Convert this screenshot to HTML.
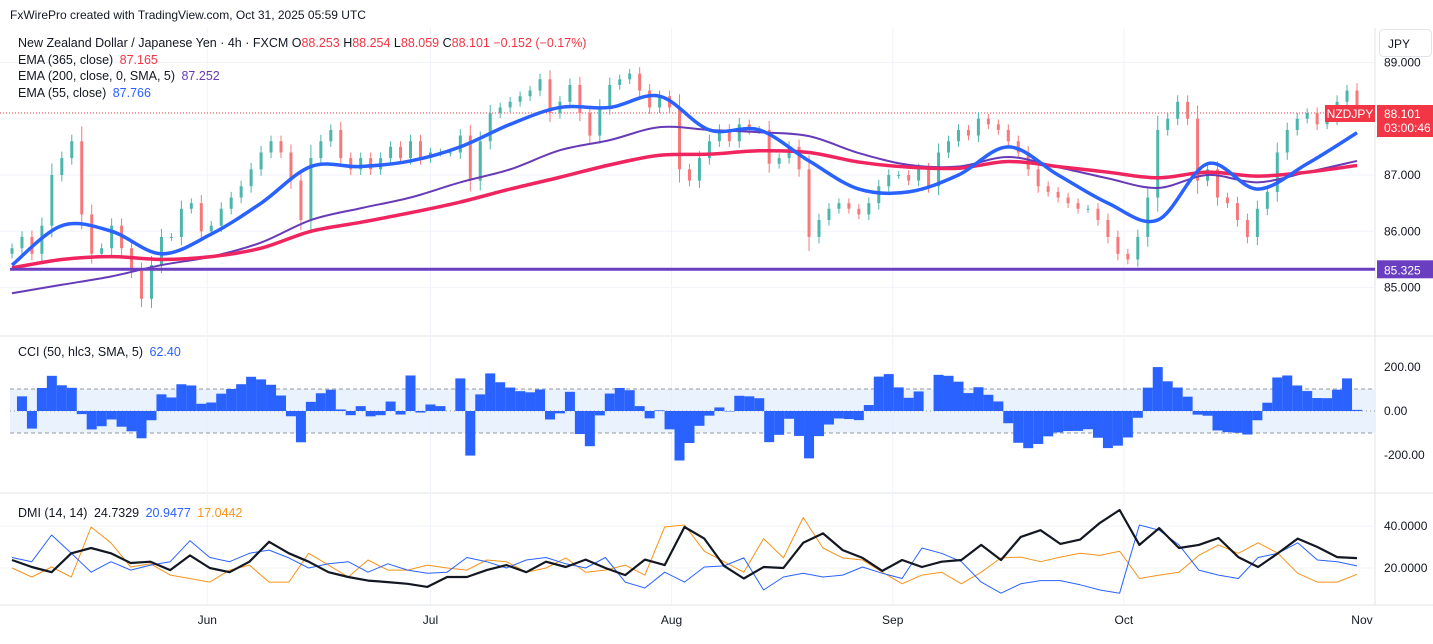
<!DOCTYPE html>
<html><head><meta charset="utf-8"><style>
body{margin:0;background:#fff;font-family:"Liberation Sans",sans-serif}
svg text{font-family:"Liberation Sans",sans-serif}
</style></head><body>
<svg id="c" width="1433" height="639" xmlns="http://www.w3.org/2000/svg">
<rect width="1433" height="639" fill="#fff"/>
<text x="10" y="19" font-size="12" fill="#131722">FxWirePro created with TradingView.com, Oct 31, 2025 05:59 UTC</text>
<g id="grid"></g>
<g id="main"></g>
<g id="cci"></g>
<g id="dmi"></g>
<g id="axes"></g>
<g font-size="12.5">
<text x="18" y="47" fill="#131722">New Zealand Dollar / Japanese Yen · 4h · FXCM  O<tspan fill="#f23645">88.253</tspan>  H<tspan fill="#f23645">88.254</tspan>  L<tspan fill="#f23645">88.059</tspan>  C<tspan fill="#f23645">88.101</tspan>  <tspan fill="#f23645">−0.152 (−0.17%)</tspan></text>
<text x="18" y="64" fill="#131722">EMA (365, close) <tspan fill="#f23645" dx="3">87.165</tspan></text>
<text x="18" y="80" fill="#131722">EMA (200, close, 0, SMA, 5) <tspan fill="#673ab7" dx="3">87.252</tspan></text>
<text x="18" y="97" fill="#131722">EMA (55, close) <tspan fill="#2962ff" dx="3">87.766</tspan></text>
</g>
<text x="18" y="356" font-size="12.5" fill="#131722">CCI (50, hlc3, SMA, 5) <tspan fill="#2962ff" dx="3">62.40</tspan></text>
<text x="18" y="517" font-size="12.5" fill="#131722">DMI (14, 14) <tspan fill="#131722" dx="3">24.7329</tspan> <tspan fill="#2962ff" dx="3">20.9477</tspan> <tspan fill="#f7931a" dx="3">17.0442</tspan></text>
</svg>
<script>
const closes=[85.7,85.9,85.6,86.1,87.0,87.3,87.6,86.3,85.6,85.7,86.1,85.7,85.3,84.8,85.4,85.9,85.9,86.4,86.5,86.0,86.1,86.4,86.6,86.8,87.1,87.4,87.6,87.4,86.9,86.2,87.3,87.6,87.8,87.3,87.1,87.3,87.1,87.3,87.5,87.3,87.6,87.3,87.4,87.4,87.4,87.7,86.9,87.6,88.1,88.2,88.3,88.4,88.5,88.7,88.1,88.3,88.6,88.1,87.7,88.2,88.6,88.7,88.8,88.5,88.2,88.4,88.2,87.1,86.9,87.3,87.6,87.8,87.6,87.9,87.8,87.8,87.2,87.3,87.5,87.1,85.9,86.2,86.4,86.5,86.4,86.3,86.5,86.8,87.0,87.0,86.9,87.1,86.8,87.4,87.6,87.8,87.7,88.0,87.9,87.8,87.6,87.4,87.1,86.8,86.7,86.6,86.5,86.4,86.4,86.2,85.9,85.6,85.5,85.9,86.6,87.8,88.0,88.3,88.0,86.9,87.1,86.6,86.5,86.2,85.9,86.4,86.7,87.4,87.8,88.0,88.1,87.9,88.0,88.3,88.5,88.1];
const ema55=[85.4,86.1,86.0,85.6,85.95,86.5,87.15,87.15,87.25,87.5,87.9,88.2,88.2,88.4,87.8,87.8,87.25,86.75,86.7,87.0,87.5,87.0,86.5,86.2,87.2,86.75,87.2,87.75];
const ema365=[85.35,85.5,85.55,85.5,85.55,85.7,86.0,86.16,86.33,86.52,86.75,86.96,87.18,87.35,87.37,87.43,87.4,87.23,87.14,87.12,87.24,87.15,87.05,86.95,87.05,86.98,87.05,87.17];
const ema200=[84.9,85.05,85.2,85.4,85.55,85.8,86.2,86.41,86.6,86.87,87.1,87.44,87.62,87.85,87.8,87.76,87.69,87.39,87.18,87.15,87.32,87.14,86.94,86.77,87.0,86.87,87.05,87.25];
const adx=[23.8,20.5,18,27,29.5,27,22.4,23,19,26,20,18,23,32.5,27,23,18,15.7,14,13.3,12.5,11,15.7,15.7,19,21.4,18,23,20.5,24,20,16.6,24,21.4,39.5,34,21,15,20.5,20,32,36.5,28.5,24.8,18.6,23.8,20.5,23,23.8,31,23.8,34.8,38,31.5,33.5,41.5,47.6,31,39,29.5,31,34.3,25.2,20.5,27,34,30,25.2,24.7];
const plusDI=[25,23,35.7,27,18,23,19,21.4,23,33,25,23,27,28.5,24.8,20,22,23,18,22,19,17.5,18,25,23,20,23.8,25,22,20,25,13.3,10.5,18,13.3,20.5,21,24.8,9.5,15.7,17.5,15.7,16.6,20.5,17.5,15,29.5,27,23,13.3,8,12.5,14,14,12,9.5,8,40.5,38,31,19,16.6,15,25,27,32,23.8,23,21];
const minusDI=[20,15.7,20.5,15.7,39.5,32,20.5,22,16.6,15,13.3,19,21.4,13.3,13.3,27,21.4,15.7,23.8,19,19,21.4,20,19,23.8,23,18,20,24.8,18,19,21.4,16.6,39.5,40.5,28,23,18,34,24.8,44,29.5,24.8,23.8,18,12.5,16.6,18,12.5,18,24.8,25.2,23,25.2,27,26,28,15,16.6,18,26,31,27,32,27,17.5,13.3,13.3,17];
const priceTicks=[89,88,87,86,85];
const cciTicks=[200,0,-200];
const dmiTicks=[40,20];
const months=["Jun","Jul","Aug","Sep","Oct","Nov"];
const monthIdx=[19.6,42,66.2,88.4,111.6,135.5];
const lastPrice=88.101, levelPrice=85.325;

const NS="http://www.w3.org/2000/svg";
const X0=12,X1=1357,RIGHT=1375;
const yP=p=>175-(p-87)*56.3;
const yC=v=>411-v*0.22;
const yD=v=>568-(v-20)*2.1;
const xAt=(i,n)=>X0+i*(X1-X0)/(n-1);
function mk(tag,attrs,parent){const e=document.createElementNS(NS,tag);for(const k in attrs)e.setAttribute(k,attrs[k]);parent.appendChild(e);return e;}
function smooth(pts){let d=`M${pts[0][0]},${pts[0][1]}`;for(let i=0;i<pts.length-1;i++){const p0=pts[Math.max(0,i-1)],p1=pts[i],p2=pts[i+1],p3=pts[Math.min(pts.length-1,i+2)];const c1=[p1[0]+(p2[0]-p0[0])/6,p1[1]+(p2[1]-p0[1])/6],c2=[p2[0]-(p3[0]-p1[0])/6,p2[1]-(p3[1]-p1[1])/6];d+=`C${c1[0]},${c1[1]} ${c2[0]},${c2[1]} ${p2[0]},${p2[1]}`;}return d;}

const grid=document.getElementById('grid');
let s=mk('line',{x1:0,x2:1433,y1:336,y2:336,stroke:'#e0e3eb'},grid);


s=mk('line',{x1:0,x2:1433,y1:493,y2:493,stroke:'#e0e3eb'},grid);


mk('line',{x1:RIGHT,x2:RIGHT,y1:28,y2:605,stroke:'#e0e3eb'},grid);
mk('line',{x1:0,x2:1433,y1:605,y2:605,stroke:'#e0e3eb'},grid);
monthIdx.slice(0,5).forEach(m=>{const x=xAt(m,closes.length);mk('line',{x1:x,x2:x,y1:28,y2:605,stroke:'#f0f3fa'},grid);});
priceTicks.forEach(p=>mk('line',{x1:0,x2:RIGHT,y1:yP(p),y2:yP(p),stroke:'#f0f3fa'},grid));
dmiTicks.forEach(v=>mk('line',{x1:0,x2:RIGHT,y1:yD(v),y2:yD(v),stroke:'#f0f3fa'},grid));

const main=document.getElementById('main');
mk('line',{x1:0,x2:RIGHT,y1:yP(lastPrice),y2:yP(lastPrice),stroke:'#f23645','stroke-dasharray':'1 2','stroke-width':1},main);
const n=closes.length;
closes.forEach((c,i)=>{
  const o=i?closes[i-1]:c-0.1;const x=xAt(i,n);const up=c>=o;
  const w=0.07+0.15*Math.abs(c-o);
  const col=up?'#4db6ac':'#f7787a';
  const g=mk('g',{},main);
  
  
  mk('line',{x1:x,x2:x,y1:yP(Math.max(o,c)+w),y2:yP(Math.min(o,c)-w),stroke:col,'stroke-width':1},g);
  const t=yP(Math.max(o,c)),b=yP(Math.min(o,c));
  mk('rect',{x:x-1.5,y:t,width:3,height:Math.max(1,b-t),fill:col},g);
});
function maLine(arr,color,w,name){const p=arr.map((v,i)=>[xAt(i,arr.length),yP(v)]);const e=mk('path',{d:smooth(p),fill:'none',stroke:color,'stroke-width':w,'stroke-linejoin':'round'},main);

}
maLine(ema200,'#673ab7',2,'ema-200-line');
maLine(ema365,'#f0245e',3.5,'ema-365-line');
maLine(ema55,'#2962ff',3.5,'ema-55-line');
const lvl=mk('line',{x1:10,x2:RIGHT,y1:yP(levelPrice),y2:yP(levelPrice),stroke:'#6a3ec0','stroke-width':3},main);



const cci=document.getElementById('cci');
mk('rect',{x:10,y:yC(100),width:RIGHT-10,height:yC(-100)-yC(100),fill:'#e3effd',opacity:0.8},cci);
[100,-100].forEach(v=>mk('line',{x1:10,x2:RIGHT,y1:yC(v),y2:yC(v),stroke:'#9598a1','stroke-dasharray':'4 3'},cci));
mk('line',{x1:10,x2:RIGHT,y1:yC(0),y2:yC(0),stroke:'#9598a1','stroke-dasharray':'1 3'},cci);
const P=8;
closes.forEach((c,i)=>{
  const w=closes.slice(Math.max(0,i-P+1),i+1);const m=w.reduce((a,b)=>a+b,0)/w.length;
  const md=w.reduce((a,b)=>a+Math.abs(b-m),0)/w.length;
  let v=md>0?(c-m)/(0.015*md):0;v=Math.max(-320,Math.min(260,v));
  const x=xAt(i,n);
  const r=mk('rect',{x:x-5,y:Math.min(yC(0),yC(v)),width:10,height:Math.abs(yC(v)-yC(0)),fill:'#2962ff'},cci);
  
  
});

const dmi=document.getElementById('dmi');
function dLine(arr,color,w,name){const p=arr.map((v,i)=>`${xAt(i,arr.length).toFixed(1)},${yD(v).toFixed(1)}`).join(' ');const e=mk('polyline',{points:p,fill:'none',stroke:color,'stroke-width':w,'stroke-linejoin':'round'},dmi);

}
dLine(minusDI,'#f7931a',1,'minus-di-line');
dLine(plusDI,'#2962ff',1,'plus-di-line');
dLine(adx,'#131722',2.2,'adx-line');

const ax=document.getElementById('axes');
priceTicks.forEach(p=>{const t=mk('text',{x:1384,y:yP(p)+4,'font-size':12,fill:'#131722'},ax);t.textContent=p.toFixed(3);

});
cciTicks.forEach(v=>{const t=mk('text',{x:1384,y:yC(v)+4,'font-size':12,fill:'#131722'},ax);t.textContent=v.toFixed(2);

});
dmiTicks.forEach(v=>{const t=mk('text',{x:1384,y:yD(v)+4,'font-size':12,fill:'#131722'},ax);t.textContent=v.toFixed(4);

});
months.forEach((m,i)=>{const t=mk('text',{x:xAt(monthIdx[i],n),y:624,'font-size':12,fill:'#131722','text-anchor':'middle'},ax);t.textContent=m;

});
const jb=mk('g',{},ax);


mk('rect',{x:1379.5,y:29.5,width:52,height:27,rx:4,fill:'#fff',stroke:'#e0e3eb'},jb);
const jt=mk('text',{x:1388,y:48,'font-size':12,fill:'#131722'},jb);jt.textContent='JPY';
const yl=yP(lastPrice);
const sym=mk('g',{},ax);


mk('rect',{x:1325,y:yl-8,width:50,height:17,fill:'#f23645'},sym);
const st=mk('text',{x:1350,y:yl+5,'font-size':12,fill:'#fff','text-anchor':'middle'},sym);st.textContent='NZDJPY';
mk('rect',{x:1377,y:yl-8,width:56,height:32,fill:'#f23645'},sym);
const pt=mk('text',{x:1384,y:yl+5,'font-size':12,fill:'#fff'},sym);pt.textContent=lastPrice.toFixed(3);
const tt=mk('text',{x:1384,y:yl+19,'font-size':12,fill:'#fff'},sym);tt.textContent='03:00:46';
const yv=yP(levelPrice);
const lv=mk('g',{},ax);


mk('rect',{x:1377,y:yv-9,width:56,height:18,fill:'#6a3ec0'},lv);
const lt=mk('text',{x:1384,y:yv+5,'font-size':12,fill:'#fff'},lv);lt.textContent=levelPrice.toFixed(3);
</script>
</body></html>
